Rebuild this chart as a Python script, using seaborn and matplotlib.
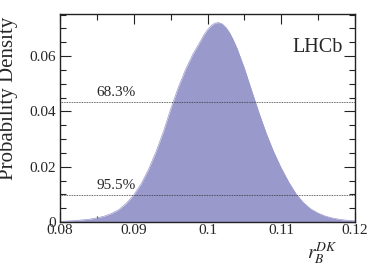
import matplotlib
matplotlib.use("Agg")
import matplotlib.pyplot as plt
from matplotlib.ticker import MultipleLocator, FixedLocator
import seaborn as sns
import pandas as pd

# Data (posterior density of r_B^DK)
r_values = [0.080, 0.082, 0.084, 0.085, 0.086, 0.087, 0.088, 0.089, 0.090,
            0.091, 0.092, 0.093, 0.094, 0.095, 0.096, 0.097, 0.098, 0.099,
            0.0995, 0.100, 0.1005, 0.101, 0.1015, 0.102, 0.1025, 0.103,
            0.1035, 0.104, 0.105, 0.106, 0.107, 0.108, 0.109, 0.110, 0.111,
            0.112, 0.113, 0.114, 0.115, 0.116, 0.117, 0.118, 0.119, 0.120]
density = [0.0002, 0.0005, 0.0010, 0.0015, 0.0021, 0.0031, 0.0045, 0.0068, 0.0098,
           0.0138, 0.0190, 0.0253, 0.0325, 0.0408, 0.0484, 0.0550, 0.0606, 0.0652,
           0.0676, 0.0695, 0.0710, 0.0719, 0.0721, 0.0716, 0.0703, 0.0684,
           0.0658, 0.0628, 0.0556, 0.0474, 0.0393, 0.0318, 0.0252, 0.0195, 0.0145,
           0.0102, 0.0070, 0.0047, 0.0032, 0.0021, 0.0014, 0.0009, 0.0006, 0.0004]
cl_labels = ["68.3%", "95.5%"]
cl_levels = [0.0433, 0.0097]
x_ticks = [0.08, 0.09, 0.10, 0.11, 0.12]
x_ticklabels = ["0.08", "0.09", "0.1", "0.11", "0.12"]
y_ticks = [0.0, 0.02, 0.04, 0.06]
y_ticklabels = ["0", "0.02", "0.04", "0.06"]

df = pd.DataFrame({"r": r_values, "p": density})

sns.set_theme(style="ticks")
plt.rcParams["font.family"] = ["Liberation Serif", "DejaVu Serif"]
plt.rcParams["mathtext.fontset"] = "stix"

fig = plt.figure(figsize=(3.74, 2.68), dpi=100)
ax = fig.add_axes([60/374, 1-222/268, 295/374, 208/268])

fill_color = "#9999cc"
ax.fill_between(df["r"], 0, df["p"], color=fill_color, linewidth=0)
sns.lineplot(data=df, x="r", y="p", ax=ax, color=fill_color, linewidth=0.5)

for lab, lev in zip(cl_labels, cl_levels):
    ax.axhline(lev, color="#333333", linestyle=(0, (1, 1)), linewidth=0.6)
    ax.text(0.0849, lev + 0.0011, lab, fontsize=11, va="bottom", ha="left")

ax.set_xlim(0.08, 0.12)
ax.set_ylim(0, 0.0752)
ax.xaxis.set_major_locator(FixedLocator(x_ticks))
ax.set_xticklabels(x_ticklabels)
ax.yaxis.set_major_locator(FixedLocator(y_ticks))
ax.set_yticklabels(y_ticklabels)
ax.xaxis.set_minor_locator(MultipleLocator(0.005))
ax.yaxis.set_minor_locator(MultipleLocator(0.005))
ax.tick_params(which="both", direction="in", top=True, right=True,
               labelsize=11, color="#222222", width=0.8)
ax.tick_params(axis="x", which="major", length=7, pad=1.5)
ax.tick_params(axis="y", which="major", length=8, pad=3)
ax.tick_params(which="minor", length=4)
for s in ax.spines.values():
    s.set_linewidth(1.0)
    s.set_color("#222222")

ax.set_xlabel("")
ax.set_ylabel("")
fig.text(9/374, 1-98/268, "Probability Density", rotation=90, fontsize=15,
         ha="center", va="center")
ax.text(0.1149, 0.0616, "LHCb", fontsize=14.5, ha="center", va="baseline")
fig.text(322/374, 1-253/268, r"$r_{B}^{DK}$", fontsize=14, ha="center", va="center")

fig.savefig("out.png", dpi=100)
